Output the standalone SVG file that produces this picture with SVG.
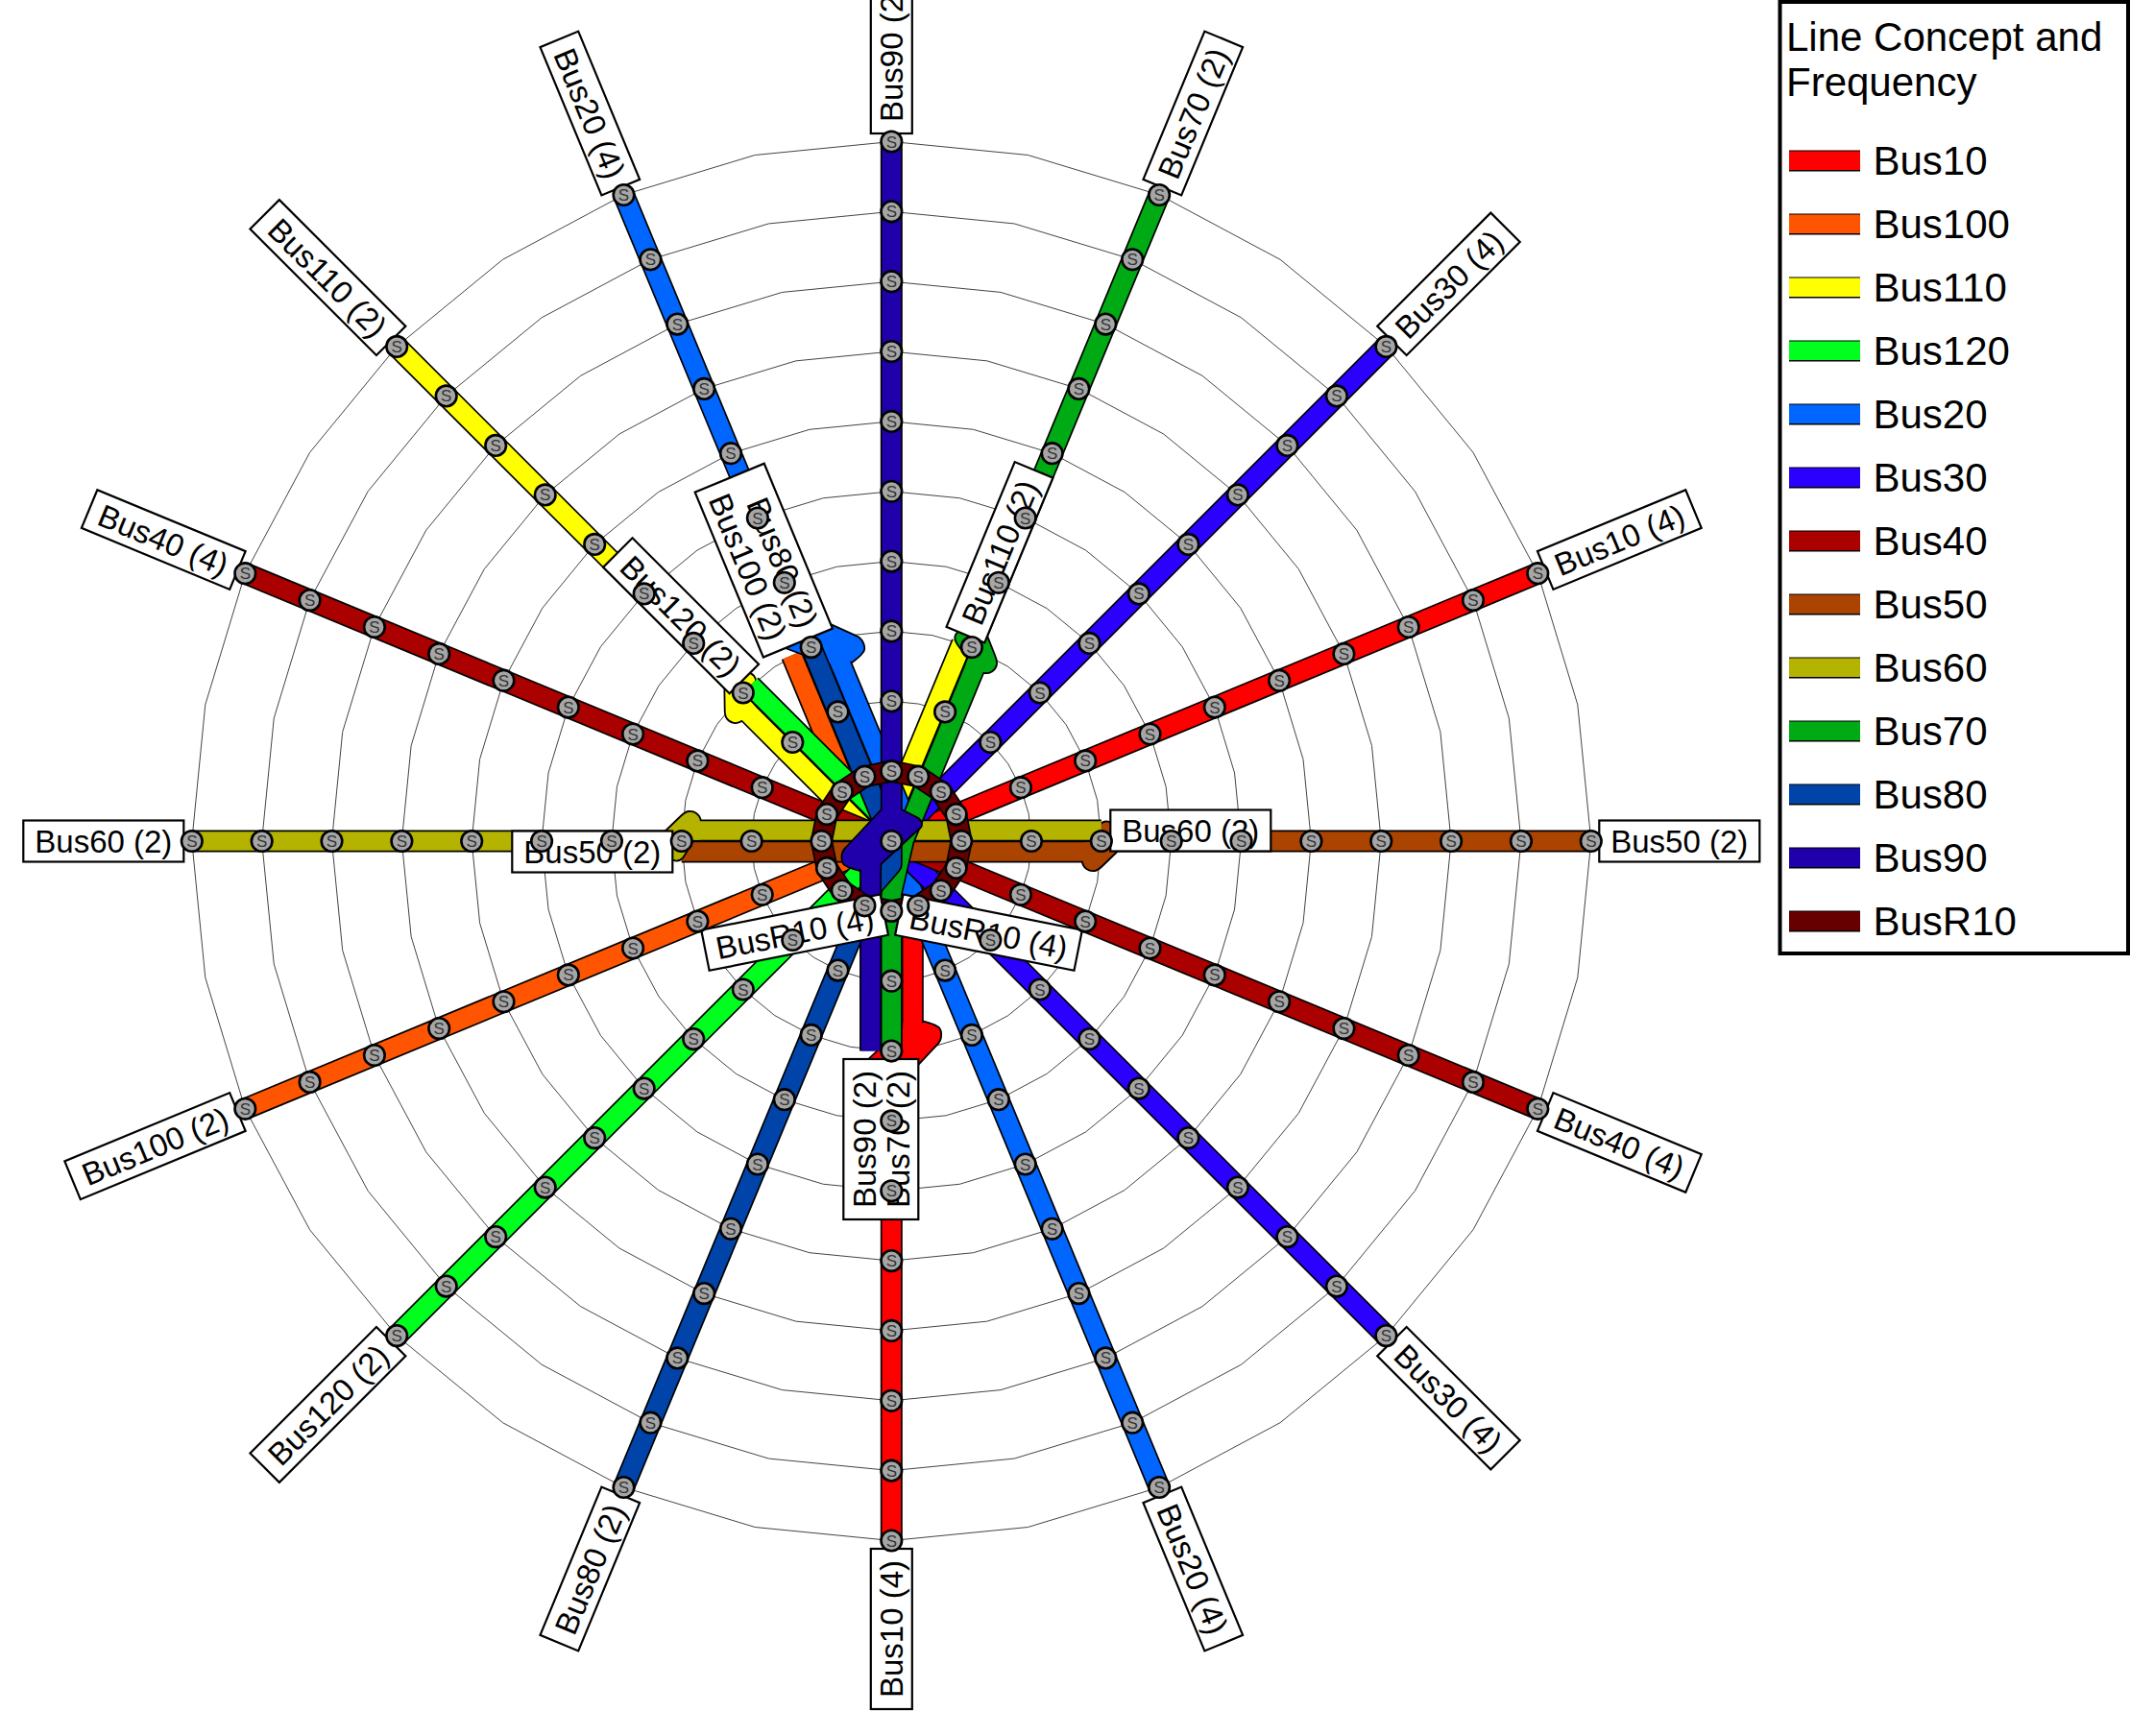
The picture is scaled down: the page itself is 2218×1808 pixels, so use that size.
<svg xmlns="http://www.w3.org/2000/svg" width="2218" height="1808" viewBox="0 0 2218 1808">
<style>
text{font-family:"Liberation Sans",Arial,sans-serif;fill:#000}
.ring{fill:none;stroke:#444;stroke-width:1;vector-effect:non-scaling-stroke}
.o{fill:none;stroke:#000;stroke-width:23;stroke-linejoin:round}
.f{fill:none;stroke-width:19.6;stroke-linejoin:round}
.b{stroke:#000;stroke-width:1.8;stroke-linejoin:round}
.lb rect{fill:#fff;stroke:#000;stroke-width:2.2}
.lb text{font-size:33px;text-anchor:middle}
.s circle{fill:#a6a6a6;stroke:#000;stroke-width:2.6}
.s text{font-size:17px;text-anchor:middle;fill:#333}
.lg{font-size:42px}
</style>
<defs>
<polygon id="ring" class="ring" points="1,0 .98079,.19509 .92388,.38268 .83147,.55557 .70711,.70711 .55557,.83147 .38268,.92388 .19509,.98079 0,1 -.19509,.98079 -.38268,.92388 -.55557,.83147 -.70711,.70711 -.83147,.55557 -.92388,.38268 -.98079,.19509 -1,0 -.98079,-.19509 -.92388,-.38268 -.83147,-.55557 -.70711,-.70711 -.55557,-.83147 -.38268,-.92388 -.19509,-.98079 0,-1 .19509,-.98079 .38268,-.92388 .55557,-.83147 .70711,-.70711 .83147,-.55557 .92388,-.38268 .98079,-.19509"/>
<path id="big" d="M-33 -10.5L-24 -28C-20 -33 -15 -33 -12 -28L24 11L30 11L30 32L31 33C29 40 28 44 26 47C24 53 12 54 6 47L-33 10.5Z"/>
<path id="small" d="M-17 -10.5L-12 -17C-8 -22 -1 -22 3 -15L12 0L20 .5L20 21.5C19 28 13 32 7 31C4 30.5 1 28 -1 26L-17 10.5Z"/>
</defs>
<rect width="2218" height="1808" fill="#fff"/>
<g id="grid" transform="translate(928.3 876)">
<use href="#ring" transform="scale(145.7)"/><use href="#ring" transform="scale(218.55)"/><use href="#ring" transform="scale(291.4)"/><use href="#ring" transform="scale(364.25)"/><use href="#ring" transform="scale(437.1)"/><use href="#ring" transform="scale(509.95)"/><use href="#ring" transform="scale(582.8)"/><use href="#ring" transform="scale(655.65)"/><use href="#ring" transform="scale(728.5)"/>
</g>
<g id="connectors" transform="translate(928.3 876)">
<g id="line-Bus10"><path class="o" d="M673 -278.8L22 -9.1L22 193.55M0 728.5L0 238.55"/><use href="#big" class="b" fill="#ff0000" transform="translate(0 218.55) rotate(-90)"/><path class="f" stroke="#ff0000" d="M673 -278.8L22 -9.1L22 193.55M0 728.5L0 238.55"/></g>
<g id="line-Bus100"><path class="o" d="M-673 278.8L-20.3 8.4L-103.9 -193.5"/><path class="f" stroke="#ff5500" d="M-673 278.8L-20.3 8.4L-103.9 -193.5"/></g>
<g id="line-Bus110"><path class="o" d="M-515.1 -515.1L-161.6 -161.6M-152.4 -136.8L-13 2.6L73.4 -206.1"/><use href="#small" class="b" fill="#ffff00" transform="translate(-154.5 -154.5) rotate(45)"/><path class="f" stroke="#ffff00" d="M-515.1 -515.1L-161.6 -161.6M-152.4 -136.8L-13 2.6L73.4 -206.1"/></g>
<g id="line-Bus120"><path class="o" d="M-515.1 515.1L7.8 -7.8L-146.7 -162.3"/><path class="f" stroke="#00ff1e" d="M-515.1 515.1L7.8 -7.8L-146.7 -162.3"/></g>
<g id="line-Bus20"><path class="o" d="M-278.8 -673L-91.25 -220.4M-53.9 -187.1L20.3 -8.4L14 34L278.8 673"/><use href="#big" class="b" fill="#0066ff" transform="translate(-83.6 -201.9) rotate(67.5) scale(1 -1)"/><path class="f" stroke="#0066ff" d="M-278.8 -673L-91.25 -220.4M-53.9 -187.1L20.3 -8.4L14 34L278.8 673"/></g>
<g id="line-Bus30"><path class="o" d="M515.1 -515.1L0 0L515.1 515.1"/><path class="f" stroke="#2b00ff" d="M515.1 -515.1L0 0L515.1 515.1"/></g>
<g id="line-Bus40"><path class="o" d="M-673 -278.8L673 278.8"/><path class="f" stroke="#aa0000" d="M-673 -278.8L673 278.8"/></g>
<g id="line-Bus50"><path class="o" d="M728.5 0L228.55 0M204.55 11L-218.55 11"/><use href="#small" class="b" fill="#aa4400" transform="translate(218.55 0) rotate(180) scale(1 -1)"/><path class="f" stroke="#aa4400" d="M728.5 0L228.55 0M204.55 11L-218.55 11"/></g>
<g id="line-Bus60"><path class="o" d="M-728.5 0L-228.55 0M-204.55 -11L218.55 -11"/><use href="#small" class="b" fill="#b3b300" transform="translate(-218.55 0) scale(1 -1)"/><path class="f" stroke="#b3b300" d="M-728.5 0L-228.55 0M-204.55 -11L218.55 -11"/></g>
<g id="line-Bus70"><path class="o" d="M278.8 -673L87.4 -211.1M88.4 -184.8L13 -2L0 54L0 218.55"/><use href="#small" class="b" fill="#00aa14" transform="translate(83.6 -201.9) rotate(112.5) scale(1 -1)"/><path class="f" stroke="#00aa14" d="M278.8 -673L87.4 -211.1M88.4 -184.8L13 -2L0 54L0 218.55"/></g>
<g id="line-Bus80"><path class="o" d="M-278.8 673L-19 46L0 24L0 0L-83.6 -201.9"/><path class="f" stroke="#0044aa" d="M-278.8 673L-19 46L0 24L0 0L-83.6 -201.9"/></g>
<g id="line-Bus90"><path class="o" d="M0 -728.5L0 -20M-21.75 25L-21.75 218.55"/><use href="#big" class="b" fill="#2000aa" transform="rotate(90)"/><path class="f" stroke="#2000aa" d="M0 -728.5L0 -20M-21.75 25L-21.75 218.55"/></g>
<g id="line-BusR10"><polygon class="o" points="72.85,0 67.3,-27.9 51.5,-51.5 27.9,-67.3 0,-72.85 -27.9,-67.3 -51.5,-51.5 -67.3,-27.9 -72.85,0 -67.3,27.9 -51.5,51.5 -27.9,67.3 0,72.85 27.9,67.3 51.5,51.5 67.3,27.9"/><polygon class="f" stroke="#660000" points="72.85,0 67.3,-27.9 51.5,-51.5 27.9,-67.3 0,-72.85 -27.9,-67.3 -51.5,-51.5 -67.3,-27.9 -72.85,0 -67.3,27.9 -51.5,51.5 -27.9,67.3 0,72.85 27.9,67.3 51.5,51.5 67.3,27.9"/></g>
</g>
<g id="labels">
<g class="lb" id="lb-Bus50-e" transform="translate(928.3 876)"><rect x="737" y="-21.5" width="167" height="43"/><text x="820.5" y="12">Bus50 (2)</text></g>
<g class="lb" id="lb-Bus10-ene" transform="translate(928.3 876) rotate(-22.5)"><rect x="737" y="-21.5" width="167" height="43"/><text x="820.5" y="12">Bus10 (4)</text></g>
<g class="lb" id="lb-Bus30-ne" transform="translate(928.3 876) rotate(-45)"><rect x="737" y="-21.5" width="167" height="43"/><text x="820.5" y="12">Bus30 (4)</text></g>
<g class="lb" id="lb-Bus70-nne" transform="translate(928.3 876) rotate(-67.5)"><rect x="737" y="-21.5" width="167" height="43"/><text x="820.5" y="12">Bus70 (2)</text></g>
<g class="lb" id="lb-Bus90-n" transform="translate(928.3 876) rotate(-90)"><rect x="737" y="-21.5" width="167" height="43"/><text x="820.5" y="12">Bus90 (2)</text></g>
<g class="lb" id="lb-Bus20-nnw" transform="translate(928.3 876) rotate(67.5)"><rect x="-904" y="-21.5" width="167" height="43"/><text x="-820.5" y="12">Bus20 (4)</text></g>
<g class="lb" id="lb-Bus110-nw" transform="translate(928.3 876) rotate(45)"><rect x="-923" y="-21.5" width="186" height="43"/><text x="-830" y="12">Bus110 (2)</text></g>
<g class="lb" id="lb-Bus40-wnw" transform="translate(928.3 876) rotate(22.5)"><rect x="-904" y="-21.5" width="167" height="43"/><text x="-820.5" y="12">Bus40 (4)</text></g>
<g class="lb" id="lb-Bus60-w" transform="translate(928.3 876)"><rect x="-904" y="-21.5" width="167" height="43"/><text x="-820.5" y="12">Bus60 (2)</text></g>
<g class="lb" id="lb-Bus100-wsw" transform="translate(928.3 876) rotate(-22.5)"><rect x="-923" y="-21.5" width="186" height="43"/><text x="-830" y="12">Bus100 (2)</text></g>
<g class="lb" id="lb-Bus120-sw" transform="translate(928.3 876) rotate(-45)"><rect x="-923" y="-21.5" width="186" height="43"/><text x="-830" y="12">Bus120 (2)</text></g>
<g class="lb" id="lb-Bus80-ssw" transform="translate(928.3 876) rotate(-67.5)"><rect x="-904" y="-21.5" width="167" height="43"/><text x="-820.5" y="12">Bus80 (2)</text></g>
<g class="lb" id="lb-Bus10-s" transform="translate(928.3 876) rotate(-90)"><rect x="-904" y="-21.5" width="167" height="43"/><text x="-820.5" y="12">Bus10 (4)</text></g>
<g class="lb" id="lb-Bus20-sse" transform="translate(928.3 876) rotate(67.5)"><rect x="737" y="-21.5" width="167" height="43"/><text x="820.5" y="12">Bus20 (4)</text></g>
<g class="lb" id="lb-Bus30-se" transform="translate(928.3 876) rotate(45)"><rect x="737" y="-21.5" width="167" height="43"/><text x="820.5" y="12">Bus30 (4)</text></g>
<g class="lb" id="lb-Bus40-ese" transform="translate(928.3 876) rotate(22.5)"><rect x="737" y="-21.5" width="167" height="43"/><text x="820.5" y="12">Bus40 (4)</text></g>
<g class="lb" id="lb-Bus60-in" transform="translate(928.3 876)"><rect x="228" y="-32.5" width="167" height="43"/><text x="311.5" y="1">Bus60 (2)</text></g>
<g class="lb" id="lb-Bus50-in" transform="translate(928.3 876)"><rect x="-395" y="-10.5" width="167" height="43"/><text x="-311.5" y="23">Bus50 (2)</text></g>
<g class="lb" id="lb-Bus110-in" transform="translate(928.3 876) rotate(-67.5)"><rect x="228" y="-32.5" width="186" height="43"/><text x="321" y="1">Bus110 (2)</text></g>
<g class="lb" id="lb-Bus120-in" transform="translate(928.3 876) rotate(45)"><rect x="-414" y="-32.5" width="186" height="43"/><text x="-321" y="1">Bus120 (2)</text></g>
<g class="lb" id="lb-Bus80-100-in" transform="translate(928.3 876) rotate(67.5)"><rect x="-414" y="-28" width="186" height="78"/><text x="-311.5" y="5.5">Bus80 (2)</text><text x="-321" y="40.5">Bus100 (2)</text></g>
<g class="lb" id="lb-Bus90-70-in" transform="translate(928.3 876) rotate(-90)"><rect x="-394" y="-50" width="167" height="78"/><text x="-310.5" y="-16.5">Bus90 (2)</text><text x="-310.5" y="18.5">Bus70 (2)</text></g>
<g class="lb" id="lb-BusR10-a" transform="translate(827.6 971.2) rotate(-11.25)"><rect x="-95" y="-21.5" width="190" height="43"/><text x="0" y="12">BusR10 (4)</text></g>
<g class="lb" id="lb-BusR10-b" transform="translate(1029.5 971.2) rotate(11.25)"><rect x="-95" y="-21.5" width="190" height="43"/><text x="0" y="12">BusR10 (4)</text></g>
</g>
<g id="stations" transform="translate(928.3 876)">
<g class="s" id="c"><circle r="10.8"/><text y="6">S</text></g>
<g class="s" id="e1" transform="translate(72.85 0)"><circle r="10.8"/><text y="6">S</text></g><g class="s" id="e2" transform="translate(145.7 0)"><circle r="10.8"/><text y="6">S</text></g><g class="s" id="e3" transform="translate(218.55 0)"><circle r="10.8"/><text y="6">S</text></g><g class="s" id="e4" transform="translate(291.4 0)"><circle r="10.8"/><text y="6">S</text></g><g class="s" id="e5" transform="translate(364.25 0)"><circle r="10.8"/><text y="6">S</text></g><g class="s" id="e6" transform="translate(437.1 0)"><circle r="10.8"/><text y="6">S</text></g><g class="s" id="e7" transform="translate(509.95 0)"><circle r="10.8"/><text y="6">S</text></g><g class="s" id="e8" transform="translate(582.8 0)"><circle r="10.8"/><text y="6">S</text></g><g class="s" id="e9" transform="translate(655.65 0)"><circle r="10.8"/><text y="6">S</text></g><g class="s" id="e10" transform="translate(728.5 0)"><circle r="10.8"/><text y="6">S</text></g>
<g class="s" id="w1" transform="translate(-72.85 0)"><circle r="10.8"/><text y="6">S</text></g><g class="s" id="w2" transform="translate(-145.7 0)"><circle r="10.8"/><text y="6">S</text></g><g class="s" id="w3" transform="translate(-218.55 0)"><circle r="10.8"/><text y="6">S</text></g><g class="s" id="w4" transform="translate(-291.4 0)"><circle r="10.8"/><text y="6">S</text></g><g class="s" id="w5" transform="translate(-364.25 0)"><circle r="10.8"/><text y="6">S</text></g><g class="s" id="w6" transform="translate(-437.1 0)"><circle r="10.8"/><text y="6">S</text></g><g class="s" id="w7" transform="translate(-509.95 0)"><circle r="10.8"/><text y="6">S</text></g><g class="s" id="w8" transform="translate(-582.8 0)"><circle r="10.8"/><text y="6">S</text></g><g class="s" id="w9" transform="translate(-655.65 0)"><circle r="10.8"/><text y="6">S</text></g><g class="s" id="w10" transform="translate(-728.5 0)"><circle r="10.8"/><text y="6">S</text></g>
<g class="s" id="n1" transform="translate(0 -72.85)"><circle r="10.8"/><text y="6">S</text></g><g class="s" id="n2" transform="translate(0 -145.7)"><circle r="10.8"/><text y="6">S</text></g><g class="s" id="n3" transform="translate(0 -218.55)"><circle r="10.8"/><text y="6">S</text></g><g class="s" id="n4" transform="translate(0 -291.4)"><circle r="10.8"/><text y="6">S</text></g><g class="s" id="n5" transform="translate(0 -364.25)"><circle r="10.8"/><text y="6">S</text></g><g class="s" id="n6" transform="translate(0 -437.1)"><circle r="10.8"/><text y="6">S</text></g><g class="s" id="n7" transform="translate(0 -509.95)"><circle r="10.8"/><text y="6">S</text></g><g class="s" id="n8" transform="translate(0 -582.8)"><circle r="10.8"/><text y="6">S</text></g><g class="s" id="n9" transform="translate(0 -655.65)"><circle r="10.8"/><text y="6">S</text></g><g class="s" id="n10" transform="translate(0 -728.5)"><circle r="10.8"/><text y="6">S</text></g>
<g class="s" id="so1" transform="translate(0 72.85)"><circle r="10.8"/><text y="6">S</text></g><g class="s" id="so2" transform="translate(0 145.7)"><circle r="10.8"/><text y="6">S</text></g><g class="s" id="so3" transform="translate(0 218.55)"><circle r="10.8"/><text y="6">S</text></g><g class="s" id="so4" transform="translate(0 291.4)"><circle r="10.8"/><text y="6">S</text></g><g class="s" id="so5" transform="translate(0 364.25)"><circle r="10.8"/><text y="6">S</text></g><g class="s" id="so6" transform="translate(0 437.1)"><circle r="10.8"/><text y="6">S</text></g><g class="s" id="so7" transform="translate(0 509.95)"><circle r="10.8"/><text y="6">S</text></g><g class="s" id="so8" transform="translate(0 582.8)"><circle r="10.8"/><text y="6">S</text></g><g class="s" id="so9" transform="translate(0 655.65)"><circle r="10.8"/><text y="6">S</text></g><g class="s" id="so10" transform="translate(0 728.5)"><circle r="10.8"/><text y="6">S</text></g>
<g class="s" id="ne1" transform="translate(51.5 -51.5)"><circle r="10.8"/><text y="6">S</text></g><g class="s" id="ne2" transform="translate(103 -103)"><circle r="10.8"/><text y="6">S</text></g><g class="s" id="ne3" transform="translate(154.5 -154.5)"><circle r="10.8"/><text y="6">S</text></g><g class="s" id="ne4" transform="translate(206.1 -206.1)"><circle r="10.8"/><text y="6">S</text></g><g class="s" id="ne5" transform="translate(257.6 -257.6)"><circle r="10.8"/><text y="6">S</text></g><g class="s" id="ne6" transform="translate(309.1 -309.1)"><circle r="10.8"/><text y="6">S</text></g><g class="s" id="ne7" transform="translate(360.6 -360.6)"><circle r="10.8"/><text y="6">S</text></g><g class="s" id="ne8" transform="translate(412.1 -412.1)"><circle r="10.8"/><text y="6">S</text></g><g class="s" id="ne9" transform="translate(463.6 -463.6)"><circle r="10.8"/><text y="6">S</text></g><g class="s" id="ne10" transform="translate(515.1 -515.1)"><circle r="10.8"/><text y="6">S</text></g>
<g class="s" id="nw1" transform="translate(-51.5 -51.5)"><circle r="10.8"/><text y="6">S</text></g><g class="s" id="nw2" transform="translate(-103 -103)"><circle r="10.8"/><text y="6">S</text></g><g class="s" id="nw3" transform="translate(-154.5 -154.5)"><circle r="10.8"/><text y="6">S</text></g><g class="s" id="nw4" transform="translate(-206.1 -206.1)"><circle r="10.8"/><text y="6">S</text></g><g class="s" id="nw5" transform="translate(-257.6 -257.6)"><circle r="10.8"/><text y="6">S</text></g><g class="s" id="nw6" transform="translate(-309.1 -309.1)"><circle r="10.8"/><text y="6">S</text></g><g class="s" id="nw7" transform="translate(-360.6 -360.6)"><circle r="10.8"/><text y="6">S</text></g><g class="s" id="nw8" transform="translate(-412.1 -412.1)"><circle r="10.8"/><text y="6">S</text></g><g class="s" id="nw9" transform="translate(-463.6 -463.6)"><circle r="10.8"/><text y="6">S</text></g><g class="s" id="nw10" transform="translate(-515.1 -515.1)"><circle r="10.8"/><text y="6">S</text></g>
<g class="s" id="sw1" transform="translate(-51.5 51.5)"><circle r="10.8"/><text y="6">S</text></g><g class="s" id="sw2" transform="translate(-103 103)"><circle r="10.8"/><text y="6">S</text></g><g class="s" id="sw3" transform="translate(-154.5 154.5)"><circle r="10.8"/><text y="6">S</text></g><g class="s" id="sw4" transform="translate(-206.1 206.1)"><circle r="10.8"/><text y="6">S</text></g><g class="s" id="sw5" transform="translate(-257.6 257.6)"><circle r="10.8"/><text y="6">S</text></g><g class="s" id="sw6" transform="translate(-309.1 309.1)"><circle r="10.8"/><text y="6">S</text></g><g class="s" id="sw7" transform="translate(-360.6 360.6)"><circle r="10.8"/><text y="6">S</text></g><g class="s" id="sw8" transform="translate(-412.1 412.1)"><circle r="10.8"/><text y="6">S</text></g><g class="s" id="sw9" transform="translate(-463.6 463.6)"><circle r="10.8"/><text y="6">S</text></g><g class="s" id="sw10" transform="translate(-515.1 515.1)"><circle r="10.8"/><text y="6">S</text></g>
<g class="s" id="se1" transform="translate(51.5 51.5)"><circle r="10.8"/><text y="6">S</text></g><g class="s" id="se2" transform="translate(103 103)"><circle r="10.8"/><text y="6">S</text></g><g class="s" id="se3" transform="translate(154.5 154.5)"><circle r="10.8"/><text y="6">S</text></g><g class="s" id="se4" transform="translate(206.1 206.1)"><circle r="10.8"/><text y="6">S</text></g><g class="s" id="se5" transform="translate(257.6 257.6)"><circle r="10.8"/><text y="6">S</text></g><g class="s" id="se6" transform="translate(309.1 309.1)"><circle r="10.8"/><text y="6">S</text></g><g class="s" id="se7" transform="translate(360.6 360.6)"><circle r="10.8"/><text y="6">S</text></g><g class="s" id="se8" transform="translate(412.1 412.1)"><circle r="10.8"/><text y="6">S</text></g><g class="s" id="se9" transform="translate(463.6 463.6)"><circle r="10.8"/><text y="6">S</text></g><g class="s" id="se10" transform="translate(515.1 515.1)"><circle r="10.8"/><text y="6">S</text></g>
<g class="s" id="ene1" transform="translate(67.3 -27.9)"><circle r="10.8"/><text y="6">S</text></g><g class="s" id="ene2" transform="translate(134.6 -55.8)"><circle r="10.8"/><text y="6">S</text></g><g class="s" id="ene3" transform="translate(201.9 -83.6)"><circle r="10.8"/><text y="6">S</text></g><g class="s" id="ene4" transform="translate(269.2 -111.5)"><circle r="10.8"/><text y="6">S</text></g><g class="s" id="ene5" transform="translate(336.5 -139.4)"><circle r="10.8"/><text y="6">S</text></g><g class="s" id="ene6" transform="translate(403.8 -167.3)"><circle r="10.8"/><text y="6">S</text></g><g class="s" id="ene7" transform="translate(471.1 -195.1)"><circle r="10.8"/><text y="6">S</text></g><g class="s" id="ene8" transform="translate(538.4 -223)"><circle r="10.8"/><text y="6">S</text></g><g class="s" id="ene9" transform="translate(605.7 -250.9)"><circle r="10.8"/><text y="6">S</text></g><g class="s" id="ene10" transform="translate(673 -278.8)"><circle r="10.8"/><text y="6">S</text></g>
<g class="s" id="ese1" transform="translate(67.3 27.9)"><circle r="10.8"/><text y="6">S</text></g><g class="s" id="ese2" transform="translate(134.6 55.8)"><circle r="10.8"/><text y="6">S</text></g><g class="s" id="ese3" transform="translate(201.9 83.6)"><circle r="10.8"/><text y="6">S</text></g><g class="s" id="ese4" transform="translate(269.2 111.5)"><circle r="10.8"/><text y="6">S</text></g><g class="s" id="ese5" transform="translate(336.5 139.4)"><circle r="10.8"/><text y="6">S</text></g><g class="s" id="ese6" transform="translate(403.8 167.3)"><circle r="10.8"/><text y="6">S</text></g><g class="s" id="ese7" transform="translate(471.1 195.1)"><circle r="10.8"/><text y="6">S</text></g><g class="s" id="ese8" transform="translate(538.4 223)"><circle r="10.8"/><text y="6">S</text></g><g class="s" id="ese9" transform="translate(605.7 250.9)"><circle r="10.8"/><text y="6">S</text></g><g class="s" id="ese10" transform="translate(673 278.8)"><circle r="10.8"/><text y="6">S</text></g>
<g class="s" id="wnw1" transform="translate(-67.3 -27.9)"><circle r="10.8"/><text y="6">S</text></g><g class="s" id="wnw2" transform="translate(-134.6 -55.8)"><circle r="10.8"/><text y="6">S</text></g><g class="s" id="wnw3" transform="translate(-201.9 -83.6)"><circle r="10.8"/><text y="6">S</text></g><g class="s" id="wnw4" transform="translate(-269.2 -111.5)"><circle r="10.8"/><text y="6">S</text></g><g class="s" id="wnw5" transform="translate(-336.5 -139.4)"><circle r="10.8"/><text y="6">S</text></g><g class="s" id="wnw6" transform="translate(-403.8 -167.3)"><circle r="10.8"/><text y="6">S</text></g><g class="s" id="wnw7" transform="translate(-471.1 -195.1)"><circle r="10.8"/><text y="6">S</text></g><g class="s" id="wnw8" transform="translate(-538.4 -223)"><circle r="10.8"/><text y="6">S</text></g><g class="s" id="wnw9" transform="translate(-605.7 -250.9)"><circle r="10.8"/><text y="6">S</text></g><g class="s" id="wnw10" transform="translate(-673 -278.8)"><circle r="10.8"/><text y="6">S</text></g>
<g class="s" id="wsw1" transform="translate(-67.3 27.9)"><circle r="10.8"/><text y="6">S</text></g><g class="s" id="wsw2" transform="translate(-134.6 55.8)"><circle r="10.8"/><text y="6">S</text></g><g class="s" id="wsw3" transform="translate(-201.9 83.6)"><circle r="10.8"/><text y="6">S</text></g><g class="s" id="wsw4" transform="translate(-269.2 111.5)"><circle r="10.8"/><text y="6">S</text></g><g class="s" id="wsw5" transform="translate(-336.5 139.4)"><circle r="10.8"/><text y="6">S</text></g><g class="s" id="wsw6" transform="translate(-403.8 167.3)"><circle r="10.8"/><text y="6">S</text></g><g class="s" id="wsw7" transform="translate(-471.1 195.1)"><circle r="10.8"/><text y="6">S</text></g><g class="s" id="wsw8" transform="translate(-538.4 223)"><circle r="10.8"/><text y="6">S</text></g><g class="s" id="wsw9" transform="translate(-605.7 250.9)"><circle r="10.8"/><text y="6">S</text></g><g class="s" id="wsw10" transform="translate(-673 278.8)"><circle r="10.8"/><text y="6">S</text></g>
<g class="s" id="nne1" transform="translate(27.9 -67.3)"><circle r="10.8"/><text y="6">S</text></g><g class="s" id="nne2" transform="translate(55.8 -134.6)"><circle r="10.8"/><text y="6">S</text></g><g class="s" id="nne3" transform="translate(83.6 -201.9)"><circle r="10.8"/><text y="6">S</text></g><g class="s" id="nne4" transform="translate(111.5 -269.2)"><circle r="10.8"/><text y="6">S</text></g><g class="s" id="nne5" transform="translate(139.4 -336.5)"><circle r="10.8"/><text y="6">S</text></g><g class="s" id="nne6" transform="translate(167.3 -403.8)"><circle r="10.8"/><text y="6">S</text></g><g class="s" id="nne7" transform="translate(195.1 -471.1)"><circle r="10.8"/><text y="6">S</text></g><g class="s" id="nne8" transform="translate(223 -538.4)"><circle r="10.8"/><text y="6">S</text></g><g class="s" id="nne9" transform="translate(250.9 -605.7)"><circle r="10.8"/><text y="6">S</text></g><g class="s" id="nne10" transform="translate(278.8 -673)"><circle r="10.8"/><text y="6">S</text></g>
<g class="s" id="nnw1" transform="translate(-27.9 -67.3)"><circle r="10.8"/><text y="6">S</text></g><g class="s" id="nnw2" transform="translate(-55.8 -134.6)"><circle r="10.8"/><text y="6">S</text></g><g class="s" id="nnw3" transform="translate(-83.6 -201.9)"><circle r="10.8"/><text y="6">S</text></g><g class="s" id="nnw4" transform="translate(-111.5 -269.2)"><circle r="10.8"/><text y="6">S</text></g><g class="s" id="nnw5" transform="translate(-139.4 -336.5)"><circle r="10.8"/><text y="6">S</text></g><g class="s" id="nnw6" transform="translate(-167.3 -403.8)"><circle r="10.8"/><text y="6">S</text></g><g class="s" id="nnw7" transform="translate(-195.1 -471.1)"><circle r="10.8"/><text y="6">S</text></g><g class="s" id="nnw8" transform="translate(-223 -538.4)"><circle r="10.8"/><text y="6">S</text></g><g class="s" id="nnw9" transform="translate(-250.9 -605.7)"><circle r="10.8"/><text y="6">S</text></g><g class="s" id="nnw10" transform="translate(-278.8 -673)"><circle r="10.8"/><text y="6">S</text></g>
<g class="s" id="ssw1" transform="translate(-27.9 67.3)"><circle r="10.8"/><text y="6">S</text></g><g class="s" id="ssw2" transform="translate(-55.8 134.6)"><circle r="10.8"/><text y="6">S</text></g><g class="s" id="ssw3" transform="translate(-83.6 201.9)"><circle r="10.8"/><text y="6">S</text></g><g class="s" id="ssw4" transform="translate(-111.5 269.2)"><circle r="10.8"/><text y="6">S</text></g><g class="s" id="ssw5" transform="translate(-139.4 336.5)"><circle r="10.8"/><text y="6">S</text></g><g class="s" id="ssw6" transform="translate(-167.3 403.8)"><circle r="10.8"/><text y="6">S</text></g><g class="s" id="ssw7" transform="translate(-195.1 471.1)"><circle r="10.8"/><text y="6">S</text></g><g class="s" id="ssw8" transform="translate(-223 538.4)"><circle r="10.8"/><text y="6">S</text></g><g class="s" id="ssw9" transform="translate(-250.9 605.7)"><circle r="10.8"/><text y="6">S</text></g><g class="s" id="ssw10" transform="translate(-278.8 673)"><circle r="10.8"/><text y="6">S</text></g>
<g class="s" id="sse1" transform="translate(27.9 67.3)"><circle r="10.8"/><text y="6">S</text></g><g class="s" id="sse2" transform="translate(55.8 134.6)"><circle r="10.8"/><text y="6">S</text></g><g class="s" id="sse3" transform="translate(83.6 201.9)"><circle r="10.8"/><text y="6">S</text></g><g class="s" id="sse4" transform="translate(111.5 269.2)"><circle r="10.8"/><text y="6">S</text></g><g class="s" id="sse5" transform="translate(139.4 336.5)"><circle r="10.8"/><text y="6">S</text></g><g class="s" id="sse6" transform="translate(167.3 403.8)"><circle r="10.8"/><text y="6">S</text></g><g class="s" id="sse7" transform="translate(195.1 471.1)"><circle r="10.8"/><text y="6">S</text></g><g class="s" id="sse8" transform="translate(223 538.4)"><circle r="10.8"/><text y="6">S</text></g><g class="s" id="sse9" transform="translate(250.9 605.7)"><circle r="10.8"/><text y="6">S</text></g><g class="s" id="sse10" transform="translate(278.8 673)"><circle r="10.8"/><text y="6">S</text></g>
</g>
<g id="legend">
<rect x="1853.5" y="2" width="362.5" height="991" fill="#fff" stroke="#000" stroke-width="4"/>
<text class="lg" x="1860" y="53">Line Concept and</text>
<text class="lg" x="1860" y="100">Frequency</text>
<g id="lg-Bus10"><rect x="1863" y="156.5" width="74" height="22" fill="#000"/><rect x="1863" y="157.5" width="74" height="19.5" fill="#ff0000"/><text class="lg" x="1950.5" y="182">Bus10</text></g>
<g id="lg-Bus100"><rect x="1863" y="222.5" width="74" height="22" fill="#000"/><rect x="1863" y="223.5" width="74" height="19.5" fill="#ff5500"/><text class="lg" x="1950.5" y="248">Bus100</text></g>
<g id="lg-Bus110"><rect x="1863" y="288.5" width="74" height="22" fill="#000"/><rect x="1863" y="289.5" width="74" height="19.5" fill="#ffff00"/><text class="lg" x="1950.5" y="314">Bus110</text></g>
<g id="lg-Bus120"><rect x="1863" y="354.5" width="74" height="22" fill="#000"/><rect x="1863" y="355.5" width="74" height="19.5" fill="#00ff1e"/><text class="lg" x="1950.5" y="380">Bus120</text></g>
<g id="lg-Bus20"><rect x="1863" y="420.5" width="74" height="22" fill="#000"/><rect x="1863" y="421.5" width="74" height="19.5" fill="#0066ff"/><text class="lg" x="1950.5" y="446">Bus20</text></g>
<g id="lg-Bus30"><rect x="1863" y="486.5" width="74" height="22" fill="#000"/><rect x="1863" y="487.5" width="74" height="19.5" fill="#2b00ff"/><text class="lg" x="1950.5" y="512">Bus30</text></g>
<g id="lg-Bus40"><rect x="1863" y="552.5" width="74" height="22" fill="#000"/><rect x="1863" y="553.5" width="74" height="19.5" fill="#aa0000"/><text class="lg" x="1950.5" y="578">Bus40</text></g>
<g id="lg-Bus50"><rect x="1863" y="618.5" width="74" height="22" fill="#000"/><rect x="1863" y="619.5" width="74" height="19.5" fill="#aa4400"/><text class="lg" x="1950.5" y="644">Bus50</text></g>
<g id="lg-Bus60"><rect x="1863" y="684.5" width="74" height="22" fill="#000"/><rect x="1863" y="685.5" width="74" height="19.5" fill="#b3b300"/><text class="lg" x="1950.5" y="710">Bus60</text></g>
<g id="lg-Bus70"><rect x="1863" y="750.5" width="74" height="22" fill="#000"/><rect x="1863" y="751.5" width="74" height="19.5" fill="#00aa14"/><text class="lg" x="1950.5" y="776">Bus70</text></g>
<g id="lg-Bus80"><rect x="1863" y="816.5" width="74" height="22" fill="#000"/><rect x="1863" y="817.5" width="74" height="19.5" fill="#0044aa"/><text class="lg" x="1950.5" y="842">Bus80</text></g>
<g id="lg-Bus90"><rect x="1863" y="882.5" width="74" height="22" fill="#000"/><rect x="1863" y="883.5" width="74" height="19.5" fill="#2000aa"/><text class="lg" x="1950.5" y="908">Bus90</text></g>
<g id="lg-BusR10"><rect x="1863" y="948.5" width="74" height="22" fill="#000"/><rect x="1863" y="949.5" width="74" height="19.5" fill="#660000"/><text class="lg" x="1950.5" y="974">BusR10</text></g>
</g>
</svg>
